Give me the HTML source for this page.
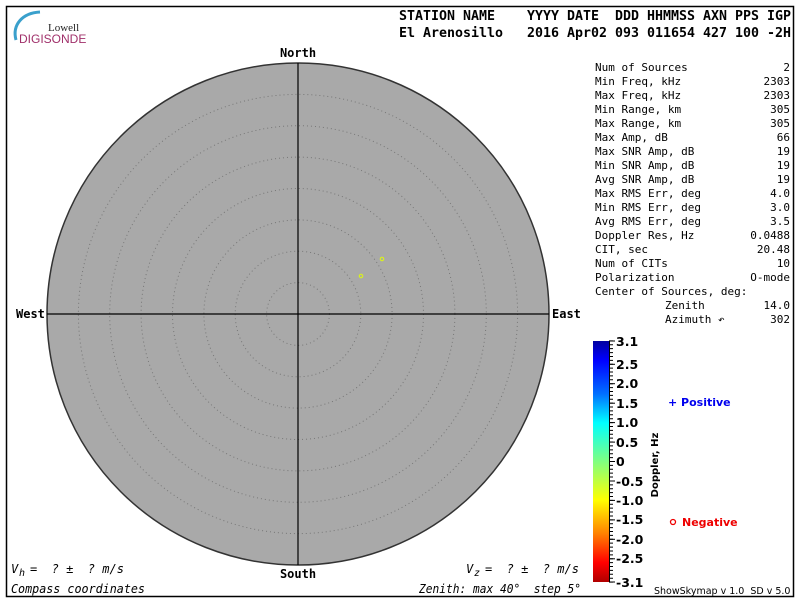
<!DOCTYPE html>
<html><head><meta charset="utf-8"><style>
html,body{margin:0;padding:0;background:#fff;}
svg{display:block;}
text{white-space:pre;}
.m{font-family:"DejaVu Sans Mono","Liberation Mono",monospace;}
.b{font-family:"DejaVu Sans","Liberation Sans",sans-serif;font-weight:bold;}
.mb{font-family:"DejaVu Sans Mono","Liberation Mono",monospace;font-weight:bold;}
</style></head><body>
<svg width="800" height="600" viewBox="0 0 800 600" xmlns="http://www.w3.org/2000/svg">
<defs>
<linearGradient id="jet" x1="0" y1="0" x2="0" y2="1">
<stop offset="0" stop-color="#0000a0"/>
<stop offset="0.08" stop-color="#0000ff"/>
<stop offset="0.22" stop-color="#0070ff"/>
<stop offset="0.34" stop-color="#00ffff"/>
<stop offset="0.5" stop-color="#80ff80"/>
<stop offset="0.66" stop-color="#ffff00"/>
<stop offset="0.8" stop-color="#ff8000"/>
<stop offset="0.92" stop-color="#ff0000"/>
<stop offset="1" stop-color="#b00000"/>
</linearGradient>
</defs>
<rect x="6.5" y="6.5" width="787" height="590" fill="#fff" stroke="#000" stroke-width="1.5"/>
<path d="M16 40 C12 25 22 13 40 12" fill="none" stroke="#3aa0cc" stroke-width="3"/>
<text x="48" y="31" font-family="Liberation Serif,serif" font-size="11" fill="#222">Lowell</text>
<text x="19" y="43" font-family="Liberation Sans,sans-serif" font-size="12" fill="#a0306a">DIGISONDE</text>
<text class="mb" x="399" y="20" font-size="13" textLength="392" lengthAdjust="spacingAndGlyphs">STATION NAME    YYYY DATE  DDD HHMMSS AXN PPS IGP</text>
<text class="mb" x="399" y="37" font-size="13" textLength="392" lengthAdjust="spacingAndGlyphs">El Arenosillo   2016 Apr02 093 011654 427 100 -2H</text>
<circle cx="298" cy="314" r="251" fill="#a9a9a9" stroke="#333" stroke-width="1.5"/>
<g fill="none" stroke="#777" stroke-width="1" stroke-dasharray="1 3">
<circle cx="298" cy="314" r="31.4"/><circle cx="298" cy="314" r="62.8"/><circle cx="298" cy="314" r="94.1"/>
<circle cx="298" cy="314" r="125.5"/><circle cx="298" cy="314" r="156.9"/><circle cx="298" cy="314" r="188.3"/>
<circle cx="298" cy="314" r="219.6"/>
</g>
<line x1="298" y1="63" x2="298" y2="565" stroke="#000" stroke-width="1.2"/>
<line x1="47" y1="314" x2="549" y2="314" stroke="#000" stroke-width="1.2"/>
<circle cx="382" cy="259" r="1.7" fill="none" stroke="#d8f020" stroke-width="1.2"/>
<circle cx="361" cy="276" r="1.7" fill="none" stroke="#d8f020" stroke-width="1.2"/>
<text class="mb" x="298" y="57" font-size="12" text-anchor="middle">North</text>
<text class="mb" x="298" y="578" font-size="12" text-anchor="middle">South</text>
<text class="mb" x="16" y="318" font-size="12">West</text>
<text class="mb" x="552" y="318" font-size="12">East</text>
<g class="m" font-size="11">
<text x="595" y="71">Num of Sources</text><text x="790" y="71" text-anchor="end">2</text>
<text x="595" y="85">Min Freq, kHz</text><text x="790" y="85" text-anchor="end">2303</text>
<text x="595" y="99">Max Freq, kHz</text><text x="790" y="99" text-anchor="end">2303</text>
<text x="595" y="113">Min Range, km</text><text x="790" y="113" text-anchor="end">305</text>
<text x="595" y="127">Max Range, km</text><text x="790" y="127" text-anchor="end">305</text>
<text x="595" y="141">Max Amp, dB</text><text x="790" y="141" text-anchor="end">66</text>
<text x="595" y="155">Max SNR Amp, dB</text><text x="790" y="155" text-anchor="end">19</text>
<text x="595" y="169">Min SNR Amp, dB</text><text x="790" y="169" text-anchor="end">19</text>
<text x="595" y="183">Avg SNR Amp, dB</text><text x="790" y="183" text-anchor="end">19</text>
<text x="595" y="197">Max RMS Err, deg</text><text x="790" y="197" text-anchor="end">4.0</text>
<text x="595" y="211">Min RMS Err, deg</text><text x="790" y="211" text-anchor="end">3.0</text>
<text x="595" y="225">Avg RMS Err, deg</text><text x="790" y="225" text-anchor="end">3.5</text>
<text x="595" y="239">Doppler Res, Hz</text><text x="790" y="239" text-anchor="end">0.0488</text>
<text x="595" y="253">CIT, sec</text><text x="790" y="253" text-anchor="end">20.48</text>
<text x="595" y="267">Num of CITs</text><text x="790" y="267" text-anchor="end">10</text>
<text x="595" y="281">Polarization</text><text x="790" y="281" text-anchor="end">O-mode</text>
<text x="595" y="295">Center of Sources, deg:</text>
<text x="665" y="309">Zenith</text><text x="790" y="309" text-anchor="end">14.0</text>
<text x="665" y="323">Azimuth ↶</text><text x="790" y="323" text-anchor="end">302</text>
</g>
<rect x="593" y="341" width="16" height="241" fill="url(#jet)"/>
<line x1="609.5" y1="341" x2="609.5" y2="582" stroke="#000"/>
<line x1="611" y1="340.4" x2="611" y2="583" stroke="#000" stroke-width="4" stroke-dasharray="1 2.89"/>
<g stroke="#000" stroke-width="1">
<line x1="609" x2="615" y1="341" y2="341"/>
<line x1="609" x2="615" y1="364.3" y2="364.3"/>
<line x1="609" x2="615" y1="383.7" y2="383.7"/>
<line x1="609" x2="615" y1="403.2" y2="403.2"/>
<line x1="609" x2="615" y1="422.6" y2="422.6"/>
<line x1="609" x2="615" y1="442.1" y2="442.1"/>
<line x1="609" x2="615" y1="461.5" y2="461.5"/>
<line x1="609" x2="615" y1="481" y2="481"/>
<line x1="609" x2="615" y1="500.4" y2="500.4"/>
<line x1="609" x2="615" y1="519.9" y2="519.9"/>
<line x1="609" x2="615" y1="539.3" y2="539.3"/>
<line x1="609" x2="615" y1="558.8" y2="558.8"/>
<line x1="609" x2="615" y1="582" y2="582"/>
</g>
<g class="b" font-size="12.5">
<text x="616" y="346">3.1</text>
<text x="616" y="369">2.5</text>
<text x="616" y="388">2.0</text>
<text x="616" y="408">1.5</text>
<text x="616" y="427">1.0</text>
<text x="616" y="447">0.5</text>
<text x="616" y="466">0</text>
<text x="616" y="486">-0.5</text>
<text x="616" y="505">-1.0</text>
<text x="616" y="524">-1.5</text>
<text x="616" y="544">-2.0</text>
<text x="616" y="563">-2.5</text>
<text x="616" y="587">-3.1</text>
</g>
<text class="b" font-size="10" transform="translate(658,465) rotate(-90)" text-anchor="middle">Doppler, Hz</text>
<text class="b" x="668" y="406" font-size="11" fill="#0000ee">+ Positive</text>
<circle cx="673" cy="522" r="2.5" fill="none" stroke="#ee0000" stroke-width="1.3"/>
<text class="b" x="682" y="526" font-size="11" fill="#ee0000">Negative</text>
<g class="m" font-size="12" font-style="italic">
<text x="11" y="573">V</text><text x="19" y="576" font-size="10">h</text><text x="30" y="573">=  ? ±  ? m/s</text>
<text x="466" y="573">V</text><text x="474" y="576" font-size="10">z</text><text x="485" y="573">=  ? ±  ? m/s</text>
<text x="11" y="593" textLength="134" lengthAdjust="spacingAndGlyphs">Compass coordinates</text>
<text x="419" y="593" textLength="162" lengthAdjust="spacingAndGlyphs">Zenith: max 40°  step 5°</text>
</g>
<text x="654" y="594" font-family="DejaVu Sans,sans-serif" font-size="9.5">ShowSkymap v 1.0  SD v 5.0</text>
</svg>
</body></html>
